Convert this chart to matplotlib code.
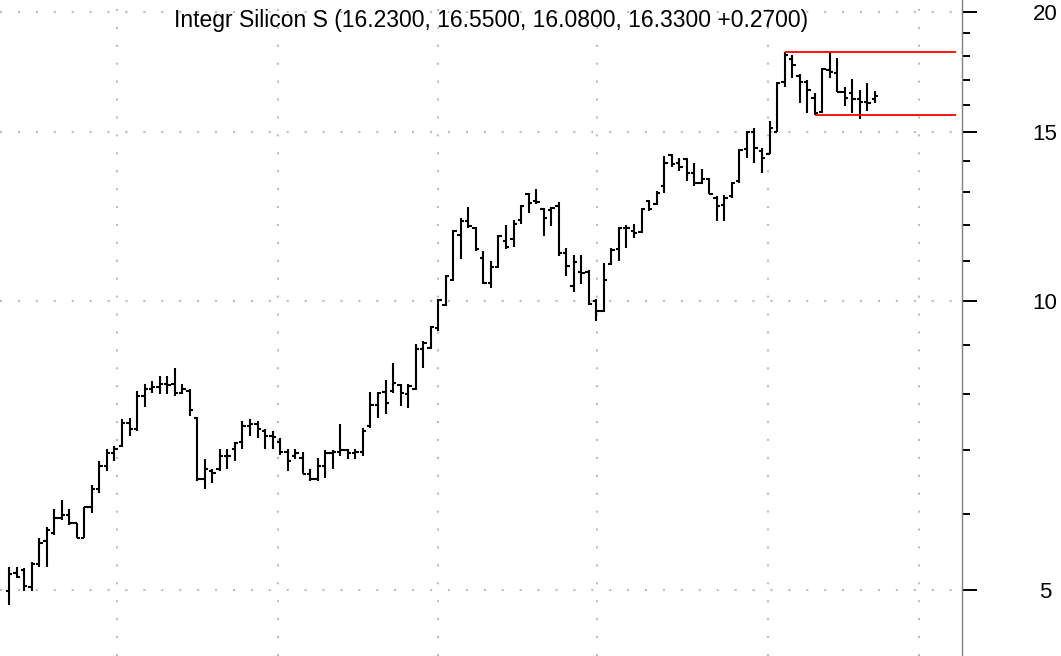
import numpy as np
import matplotlib.pyplot as plt
from matplotlib.ticker import FixedLocator, FixedFormatter, NullFormatter

# daily OHLC (oldest first)
opens = [4.99, 5.21, 5.25, 5.04, 5.33, 5.62, 5.73, 5.95, 5.99, 5.87,
         5.67, 6.10, 6.38, 6.73, 6.94, 7.06, 7.46, 7.35, 7.96, 8.09,
         8.13, 8.19, 8.19, 8.02, 8.06, 7.55, 6.52, 6.65, 6.68, 6.89,
         7.01, 7.14, 7.41, 7.44, 7.32, 7.23, 7.14, 6.97, 6.89, 6.86,
         6.61, 6.52, 6.73, 6.94, 6.96, 6.99, 6.94, 6.96, 7.41, 7.79,
         8.04, 8.06, 8.17, 8.00, 8.09, 8.91, 8.93, 9.37, 9.90, 10.52,
         11.72, 12.12, 11.92, 11.09, 10.44, 10.85, 11.55, 11.61, 12.15, 12.94,
         12.72, 12.48, 12.45, 12.57, 11.22, 10.37, 10.72, 10.72, 10.00, 9.76,
         10.93, 11.33, 11.92, 11.83, 11.80, 12.72, 12.63, 13.19, 14.20, 13.93,
         14.05, 13.60, 13.28, 13.40, 12.81, 12.60, 12.87, 13.34, 14.41, 14.98,
         14.34, 14.24, 15.01, 16.89, 17.85, 17.17, 16.89, 16.29, 15.75, 17.38,
         17.29, 16.49, 16.45, 16.25, 16.10, 16.23]
highs = [5.29, 5.28, 5.27, 5.35, 5.66, 5.82, 6.08, 6.21, 6.07, 5.88,
         6.11, 6.44, 6.81, 7.02, 7.06, 7.53, 7.55, 8.06, 8.19, 8.25,
         8.35, 8.35, 8.51, 8.19, 8.09, 7.57, 6.84, 6.69, 7.02, 7.02,
         7.14, 7.50, 7.53, 7.50, 7.35, 7.32, 7.20, 7.01, 7.01, 6.97,
         6.69, 6.86, 6.99, 6.99, 7.44, 7.02, 7.02, 7.37, 8.04, 8.04,
         8.27, 8.62, 8.19, 8.19, 9.02, 9.08, 9.42, 10.05, 10.65, 11.86,
         12.21, 12.54, 11.94, 11.28, 11.01, 11.72, 12.00, 12.15, 12.60, 12.96,
         13.09, 12.51, 12.54, 12.69, 11.36, 11.17, 11.17, 10.77, 10.05, 10.96,
         11.36, 11.94, 12.00, 12.03, 12.50, 12.75, 13.03, 14.17, 14.24, 14.10,
         14.10, 13.93, 13.74, 13.42, 12.87, 12.91, 13.31, 14.41, 15.05, 15.15,
         14.45, 15.41, 16.89, 18.15, 18.02, 17.25, 16.97, 16.45, 17.47, 18.15,
         17.89, 16.69, 17.01, 16.57, 16.85, 16.55]
lows = [4.83, 5.15, 4.99, 4.99, 5.28, 5.29, 5.71, 5.92, 5.84, 5.66,
        5.66, 6.02, 6.31, 6.65, 6.81, 7.04, 7.23, 7.32, 7.75, 8.02,
        8.00, 8.00, 7.96, 8.00, 7.59, 6.49, 6.37, 6.46, 6.65, 6.68,
        6.81, 7.02, 7.23, 7.20, 7.01, 7.02, 6.92, 6.65, 6.84, 6.60,
        6.49, 6.49, 6.54, 6.69, 6.89, 6.84, 6.84, 6.89, 7.37, 7.55,
        7.62, 8.02, 7.77, 7.73, 8.07, 8.51, 8.91, 9.31, 9.88, 10.50,
        11.06, 11.92, 11.28, 10.42, 10.32, 10.83, 11.33, 11.38, 12.03, 12.36,
        12.63, 11.69, 11.97, 11.14, 10.62, 10.22, 10.42, 9.91, 9.53, 9.74,
        10.91, 11.01, 11.36, 11.63, 11.78, 12.42, 12.60, 12.97, 13.80, 13.67,
        13.34, 13.19, 13.25, 12.92, 12.12, 12.12, 12.81, 13.28, 14.10, 13.93,
        13.60, 14.22, 14.99, 16.69, 17.09, 16.06, 15.71, 15.62, 15.71, 17.05,
        16.49, 15.98, 15.71, 15.48, 15.79, 16.08]
closes = [5.20, 5.16, 5.05, 5.33, 5.60, 5.78, 5.95, 5.99, 5.88, 5.66,
          6.10, 6.38, 6.73, 6.94, 7.01, 7.46, 7.35, 7.96, 8.09, 8.13,
          8.19, 8.17, 8.02, 8.09, 7.71, 6.52, 6.68, 6.62, 6.89, 6.89,
          7.11, 7.41, 7.44, 7.35, 7.23, 7.21, 6.97, 6.81, 6.94, 6.61,
          6.52, 6.73, 6.94, 6.96, 6.99, 6.94, 6.96, 7.32, 7.79, 8.02,
          7.83, 8.21, 8.02, 8.15, 8.91, 9.04, 9.39, 10.02, 10.62, 11.83,
          12.12, 11.97, 11.33, 10.44, 10.85, 11.69, 11.38, 12.03, 12.57, 12.66,
          12.69, 12.21, 12.51, 11.22, 10.88, 10.98, 10.70, 9.93, 9.76, 10.52,
          11.31, 11.92, 11.90, 11.78, 12.48, 12.48, 12.97, 13.93, 13.90, 13.80,
          13.60, 13.28, 13.40, 12.94, 12.57, 12.81, 13.28, 14.38, 14.98, 14.45,
          14.10, 15.15, 16.85, 18.02, 17.59, 16.89, 16.57, 15.71, 17.43, 17.30,
          16.52, 16.29, 16.25, 16.10, 16.06, 16.33]

name = "Integr Silicon S"
month_marks = [14.3, 35.7, 57.0, 78.05, 100.8, 120.9]   # bar positions of month starts
major_ticks = [5, 10, 15, 20]
minor_ticks = [6, 7, 8, 9, 11, 12, 13, 14, 16, 17, 18, 19]

# trading range drawn in red
range_top, range_top_from = 18.15, 103
range_bot, range_bot_from = 15.62, 107
range_end = 125.8

plt.rcParams['font.family'] = ['Liberation Sans', 'DejaVu Sans']

fig = plt.figure(figsize=(10.61, 6.56), dpi=100)
ax = fig.add_axes([0, 0, 962 / 1061, 1])

x = np.arange(len(opens))
tw = 0.45
ax.vlines(x, lows, highs, color='black', lw=1.5, zorder=3)
ax.hlines(opens, x - tw, x, color='black', lw=1.5, zorder=3)
ax.hlines(closes, x, x + tw, color='black', lw=1.5, zorder=3)

ax.hlines([range_top], range_top_from, range_end, color='red', lw=1.3, zorder=4)
ax.hlines([range_bot], range_bot_from, range_end, color='red', lw=1.3, zorder=4)

ax.set_yscale('log')
ax.set_ylim(4.27, 20.58)
ax.set_xlim(-1.2, 126.56)

dots = (0, (1, 7.6))
ax.set_axisbelow(True)
for m in month_marks:
    ax.axvline(m, color='#bdbdbd', lw=1.5, linestyle=dots, zorder=1)
for t in major_ticks:
    ax.axhline(t, color='#bdbdbd', lw=1.5, linestyle=dots, zorder=1)

ax.yaxis.tick_right()
ax.yaxis.set_major_locator(FixedLocator(major_ticks))
ax.yaxis.set_major_formatter(FixedFormatter([str(t) for t in major_ticks]))
ax.yaxis.set_minor_locator(FixedLocator(minor_ticks))
ax.yaxis.set_minor_formatter(NullFormatter())
ax.tick_params(axis='y', which='major', length=10.8, width=1.4, pad=49, labelsize=16, color='black')
ax.tick_params(axis='y', which='minor', length=5.8, width=1.4, color='black')
plt.setp(ax.yaxis.get_majorticklabels(), ha='center')
ax.set_xticks([])

for s in ['left', 'top', 'bottom']:
    ax.spines[s].set_visible(False)
ax.spines['right'].set_color('#808080')
ax.spines['right'].set_linewidth(1.0)

prev = closes[-2]
title = "%s (%.4f, %.4f, %.4f, %.4f %+.4f)" % (name, opens[-1], highs[-1], lows[-1],
                                             closes[-1], closes[-1] - prev)
ax.text(0.51, 0.968, title, transform=ax.transAxes, ha='center', va='center', fontsize=16.5)

fig.savefig('out.png', dpi=100)
